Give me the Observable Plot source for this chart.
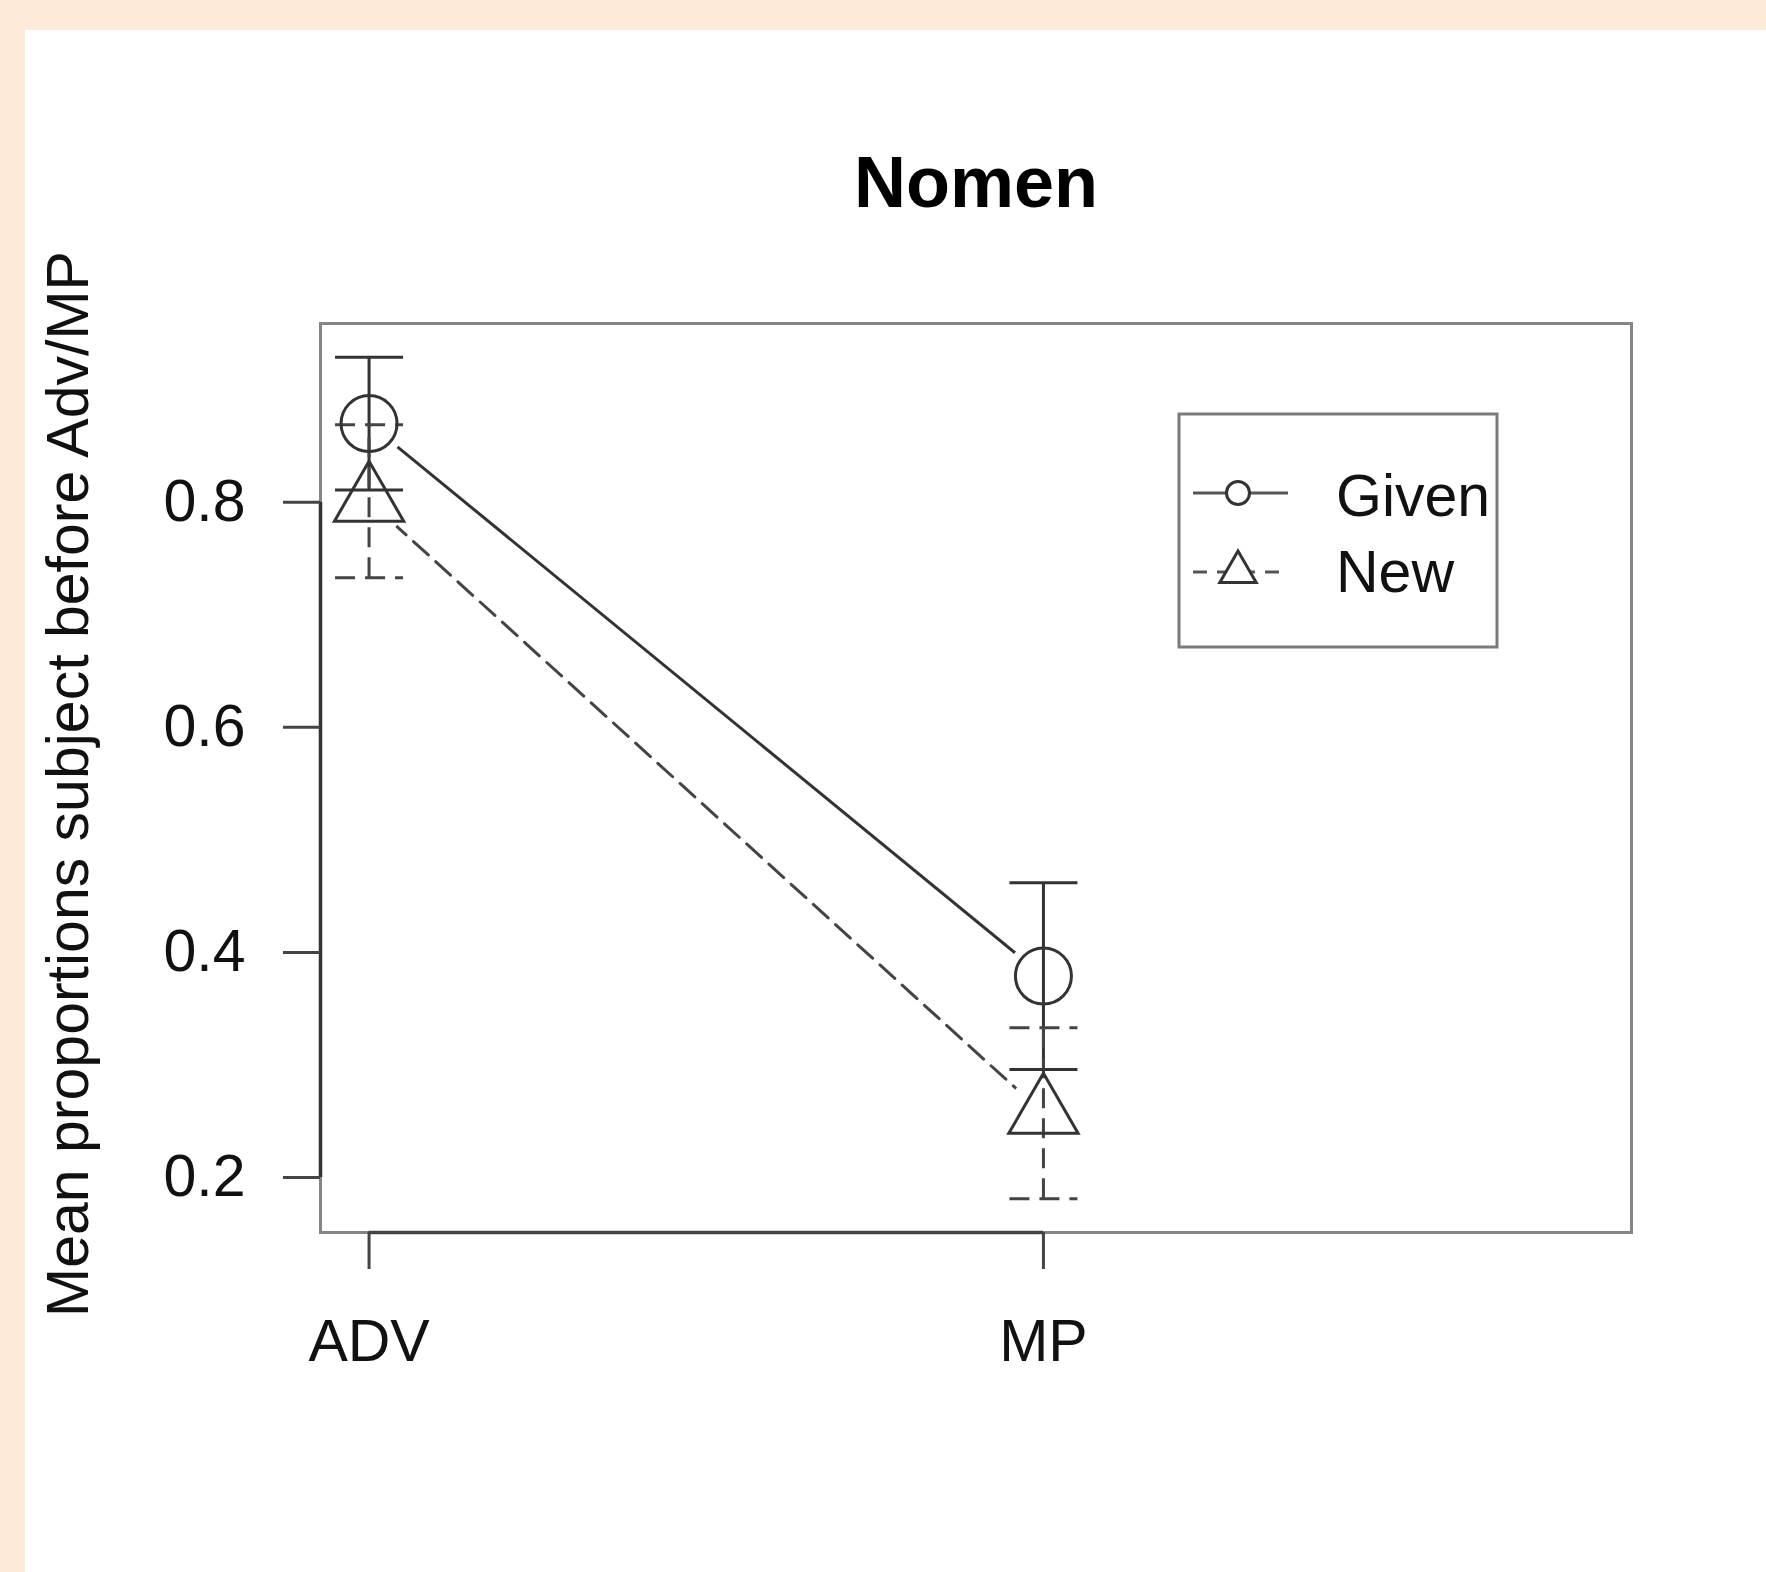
<!DOCTYPE html>
<html>
<head>
<meta charset="utf-8">
<script src="https://cdn.jsdelivr.net/npm/d3@7"></script>
<script src="https://cdn.jsdelivr.net/npm/@observablehq/plot@0.6"></script>
<style>
  html, body { margin: 0; padding: 0; }
  body { width: 1766px; height: 1572px; position: relative; overflow: hidden; background: #fdebd7; font-family: "Liberation Sans", Arial, sans-serif; }
  #white { position: absolute; left: 25px; top: 30px; right: 0; bottom: 0; background: #ffffff; }
  #chart { position: absolute; left: 25px; top: 30px; }
  #legend { position: absolute; left: 0; top: 0; }
</style>
</head>
<body>
<div id="white"></div>
<div id="chart"></div>
<svg id="legend" width="1766" height="1572"></svg>
<script>
// ---- data ----
const categories = ["ADV", "MP"];
const seriesNames = ["Given", "New"];
const givenMean = [0.870, 0.379];
const givenErr = [0.059, 0.083];
const newMean = [0.801, 0.257];
const newErr = [0.068, 0.076];
const yTicks = [0.2, 0.4, 0.6, 0.8];
const yTickLabels = ["0.2", "0.4", "0.6", "0.8"];
const xLimits = [1, 2.8];
const titleText = "Nomen";
const yLabelText = "Mean proportions subject before Adv/MP";

// ---- build table ----
const rows = [];
categories.forEach((c, i) => {
  rows.push({series: seriesNames[0], pos: i + 1, cat: c, mean: givenMean[i], lo: givenMean[i] - givenErr[i], hi: givenMean[i] + givenErr[i]});
  rows.push({series: seriesNames[1], pos: i + 1, cat: c, mean: newMean[i], lo: newMean[i] - newErr[i], hi: newMean[i] + newErr[i]});
});
const given = rows.filter(d => d.series === seriesNames[0]);
const fresh = rows.filter(d => d.series === seriesNames[1]);

// R-style 4% axis extension
const ext = (a, b) => [a - 0.04 * (b - a), b + 0.04 * (b - a)];
const yDomain = ext(d3.min(rows, d => d.lo), d3.max(rows, d => d.hi));
const xDomain = ext(xLimits[0], xLimits[1]);

// custom symbols
const capSymbol = { draw(ctx, size) { const r = Math.sqrt(size / Math.PI); ctx.moveTo(-r, 0); ctx.lineTo(r, 0); } };
const triSymbol = { draw(ctx, size) { const r = Math.sqrt(size / Math.PI); const h = r * Math.sqrt(3) / 2; ctx.moveTo(0, -r); ctx.lineTo(h, r / 2); ctx.lineTo(-h, r / 2); ctx.closePath(); } };

const ink = "#333333";
const ink2 = "#444444";
const lw = 3;
const dash = "20,10";

const plot = Plot.plot({
  width: 1741,
  height: 1542,
  marginLeft: 295,
  marginRight: 135,
  marginTop: 293,
  marginBottom: 340,
  style: { fontFamily: "'Liberation Sans', Arial, sans-serif", fontSize: "59px", background: "transparent", color: "#111" },
  x: { domain: xDomain, axis: null },
  y: { domain: yDomain, axis: null },
  marks: [
    Plot.frame({ stroke: "#858585", strokeWidth: 3 }),
    // axis lines (R axis spans first to last tick)
    Plot.ruleY([yDomain[0]], { x1: 1, x2: categories.length, stroke: "#444", strokeWidth: 3.5 }),
    Plot.ruleX([xDomain[0]], { y1: yTicks[0], y2: yTicks[yTicks.length - 1], stroke: "#333", strokeWidth: 3.5 }),
    Plot.axisX({ ticks: categories.map((c, i) => i + 1), tickFormat: v => categories[v - 1], tickSize: 37, tickPadding: 50, stroke: "#444", strokeWidth: 3, fontSize: 59, fill: "#111", label: null }),
    Plot.axisY({ ticks: yTicks, tickFormat: v => yTickLabels[yTicks.indexOf(v)], tickSize: 37, tickPadding: 38, stroke: "#444", strokeWidth: 3, fontSize: 59, fill: "#111", label: null }),
    // connecting lines
    Plot.line(given, { x: "pos", y: "mean", stroke: ink, strokeWidth: lw }),
    Plot.line(fresh, { x: "pos", y: "mean", stroke: ink2, strokeWidth: lw, strokeDasharray: dash }),
    // gaps around points (type = "b")
    Plot.dot(rows, { x: "pos", y: "mean", r: 37, fill: "white", stroke: null }),
    // error bars
    Plot.ruleX(given, { x: "pos", y1: "lo", y2: "hi", stroke: ink, strokeWidth: lw }),
    Plot.ruleX(fresh, { x: "pos", y1: "lo", y2: "hi", stroke: ink2, strokeWidth: lw, strokeDasharray: dash }),
    Plot.dot(given, { x: "pos", y: "hi", symbol: capSymbol, r: 34, stroke: ink, strokeWidth: lw, fill: "none" }),
    Plot.dot(given, { x: "pos", y: "lo", symbol: capSymbol, r: 34, stroke: ink, strokeWidth: lw, fill: "none" }),
    Plot.dot(fresh, { x: "pos", y: "hi", symbol: capSymbol, r: 34, stroke: ink2, strokeWidth: lw, fill: "none", strokeDasharray: dash }),
    Plot.dot(fresh, { x: "pos", y: "lo", symbol: capSymbol, r: 34, stroke: ink2, strokeWidth: lw, fill: "none", strokeDasharray: dash }),
    // markers
    Plot.dot(given, { x: "pos", y: "mean", symbol: "circle", r: 28, stroke: ink, strokeWidth: lw, fill: "none" }),
    Plot.dot(fresh, { x: "pos", y: "mean", symbol: triSymbol, r: 40, stroke: ink, strokeWidth: lw, fill: "none" }),
    // title and y label
    Plot.text([titleText], { frameAnchor: "top", dy: -140, text: d => d, fontSize: 72, fontWeight: "bold", fill: "#000", lineAnchor: "middle" }),
    Plot.text([yLabelText], { frameAnchor: "left", dx: -251, dy: 6, text: d => d, rotate: -90, fontSize: 59, fill: "#111", lineAnchor: "middle", textAnchor: "middle" })
  ]
});
document.getElementById("chart").appendChild(plot);

// ---- legend ----
const lg = d3.select("#legend");
const box = { x: 1179, y: 414, w: 318, h: 233 };
lg.append("rect").attr("x", box.x).attr("y", box.y).attr("width", box.w).attr("height", box.h)
  .attr("fill", "white").attr("stroke", "#7a7a7a").attr("stroke-width", 3);
const legendRows = [
  { name: seriesNames[0], ly: 493, ty: 516, dash: null, sym: "circle" },
  { name: seriesNames[1], ly: 572, ty: 592, dash: "14,10", sym: "triangle" }
];
legendRows.forEach(r => {
  lg.append("line").attr("x1", 1193).attr("x2", 1288).attr("y1", r.ly).attr("y2", r.ly)
    .attr("stroke", "#555").attr("stroke-width", 3).attr("stroke-dasharray", r.dash);
  if (r.sym === "circle") {
    lg.append("circle").attr("cx", 1238).attr("cy", r.ly).attr("r", 11.5).attr("fill", "white").attr("stroke", ink).attr("stroke-width", 3);
  } else {
    const rr = 21, h = rr * Math.sqrt(3) / 2, cy = r.ly;
    lg.append("path").attr("d", `M1238,${cy - rr}L${1238 + h},${cy + rr / 2}L${1238 - h},${cy + rr / 2}Z`)
      .attr("fill", "white").attr("stroke", ink).attr("stroke-width", 3);
  }
  lg.append("text").attr("x", 1336).attr("y", r.ty).text(r.name)
    .attr("font-family", "'Liberation Sans', Arial, sans-serif").attr("font-size", 59).attr("fill", "#111");
});
</script>
</body>
</html>
